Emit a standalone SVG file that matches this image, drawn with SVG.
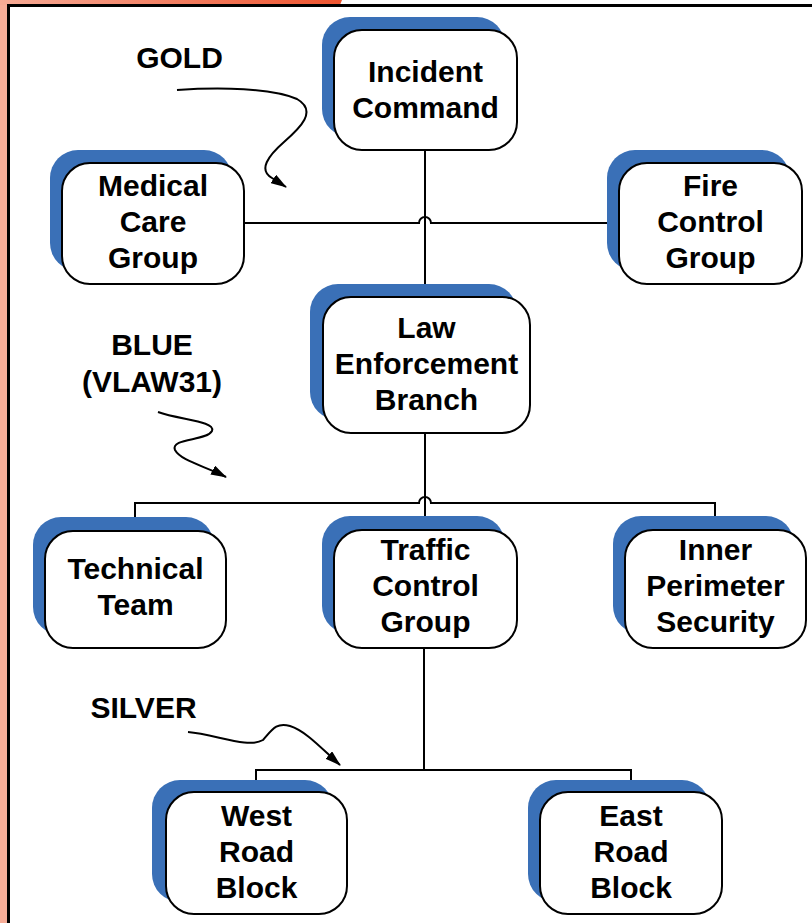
<svg xmlns="http://www.w3.org/2000/svg" width="812" height="923" viewBox="0 0 812 923">
<defs>
<linearGradient id="topg" x1="0" y1="0" x2="1" y2="0">
<stop offset="0" stop-color="#f6ab96"/>
<stop offset="1" stop-color="#ef5530"/>
</linearGradient>
<marker id="ah" viewBox="0 0 16 10" refX="15" refY="5" markerWidth="16" markerHeight="10" markerUnits="userSpaceOnUse" orient="auto">
<path d="M0,0 L16,5 L0,10 Z" fill="#000"/>
</marker>
<style>
.sh{fill:#3a70b7}
.bx{fill:#fff;stroke:#000;stroke-width:2}
.t{font-family:"Liberation Sans",Arial,sans-serif;font-weight:bold;font-size:30px;fill:#000;text-anchor:middle}
.c{fill:none;stroke:#000;stroke-width:2}
.sq{fill:none;stroke:#000;stroke-width:2;marker-end:url(#ah)}
</style>
</defs>
<rect x="0" y="0" width="812" height="923" fill="#fff"/>
<rect x="0" y="0" width="7" height="923" fill="#f7ad98"/>
<polygon points="0,0 342,0 340,5 0,5" fill="url(#topg)"/>
<line x1="8.5" y1="5" x2="8.5" y2="923" stroke="#000" stroke-width="3"/>
<line x1="7" y1="5.5" x2="812" y2="5.5" stroke="#000" stroke-width="3"/>

<g id="connectors">
<path class="c" d="M425,150 V297"/>
<path class="c" d="M244,223 H419 A6,6 0 0 1 431,223 H619"/>
<path class="c" d="M425,433 V530"/>
<path class="c" d="M135,532 V503 H419 A6,6 0 0 1 431,503 H715 V530"/>
<path class="c" d="M424,648 V770"/>
<path class="c" d="M256,792 V770 H631 V792"/>
<path class="sq" d="M177,90 C220,87 272,88 297,99 C318,111 300,128 284,142 C268,156 258,170 272,178 L286,187"/>
<path class="sq" d="M158,412 C180,420 216,421 212,431 C207,441 170,438 175,450 C181,461 205,466 226,477"/>
<path class="sq" d="M188,732 C215,734 248,749 263,740 C272,730 276,722 290,726 C306,731 322,749 340,765"/>
</g>

<g id="incident-command">
<rect class="sh" x="322" y="17" width="183" height="120" rx="28"/>
<rect class="bx" x="334" y="30" width="183" height="120" rx="28"/>
<text class="t" x="425.5" y="82">Incident</text>
<text class="t" x="425.5" y="118">Command</text>
</g>
<g id="medical-care-group">
<rect class="sh" x="50" y="150" width="182" height="121" rx="28"/>
<rect class="bx" x="62" y="163" width="182" height="121" rx="28"/>
<text class="t" x="153" y="196">Medical</text>
<text class="t" x="153" y="232">Care</text>
<text class="t" x="153" y="268">Group</text>
</g>
<g id="fire-control-group">
<rect class="sh" x="607" y="150" width="183" height="121" rx="28"/>
<rect class="bx" x="619" y="163" width="183" height="121" rx="28"/>
<text class="t" x="710.5" y="196">Fire</text>
<text class="t" x="710.5" y="232">Control</text>
<text class="t" x="710.5" y="268">Group</text>
</g>
<g id="law-enforcement-branch">
<rect class="sh" x="310" y="284" width="207" height="136" rx="28"/>
<rect class="bx" x="323" y="297" width="207" height="136" rx="28"/>
<text class="t" x="426.5" y="338">Law</text>
<text class="t" x="426.5" y="374">Enforcement</text>
<text class="t" x="426.5" y="410">Branch</text>
</g>
<g id="technical-team">
<rect class="sh" x="33" y="517" width="181" height="118" rx="28"/>
<rect class="bx" x="45" y="531" width="181" height="117" rx="28"/>
<text class="t" x="135.5" y="579">Technical</text>
<text class="t" x="135.5" y="615">Team</text>
</g>
<g id="traffic-control-group">
<rect class="sh" x="322" y="516" width="183" height="118" rx="28"/>
<rect class="bx" x="334" y="530" width="183" height="118" rx="28"/>
<text class="t" x="425.5" y="560">Traffic</text>
<text class="t" x="425.5" y="596">Control</text>
<text class="t" x="425.5" y="632">Group</text>
</g>
<g id="inner-perimeter-security">
<rect class="sh" x="613" y="516" width="181" height="118" rx="28"/>
<rect class="bx" x="625" y="530" width="181" height="118" rx="28"/>
<text class="t" x="715.5" y="560">Inner</text>
<text class="t" x="715.5" y="596">Perimeter</text>
<text class="t" x="715.5" y="632">Security</text>
</g>
<g id="west-road-block">
<rect class="sh" x="152" y="780" width="181" height="122" rx="28"/>
<rect class="bx" x="166" y="792" width="181" height="122" rx="28"/>
<text class="t" x="256.5" y="826">West</text>
<text class="t" x="256.5" y="862">Road</text>
<text class="t" x="256.5" y="898">Block</text>
</g>
<g id="east-road-block">
<rect class="sh" x="528" y="780" width="182" height="122" rx="28"/>
<rect class="bx" x="540" y="792" width="182" height="122" rx="28"/>
<text class="t" x="631" y="826">East</text>
<text class="t" x="631" y="862">Road</text>
<text class="t" x="631" y="898">Block</text>
</g>
<g id="labels">
<text class="t" x="179.5" y="68">GOLD</text>
<text class="t" x="152" y="355">BLUE</text>
<text class="t" x="152" y="392">(VLAW31)</text>
<text class="t" x="143.5" y="718">SILVER</text>
</g>
</svg>
